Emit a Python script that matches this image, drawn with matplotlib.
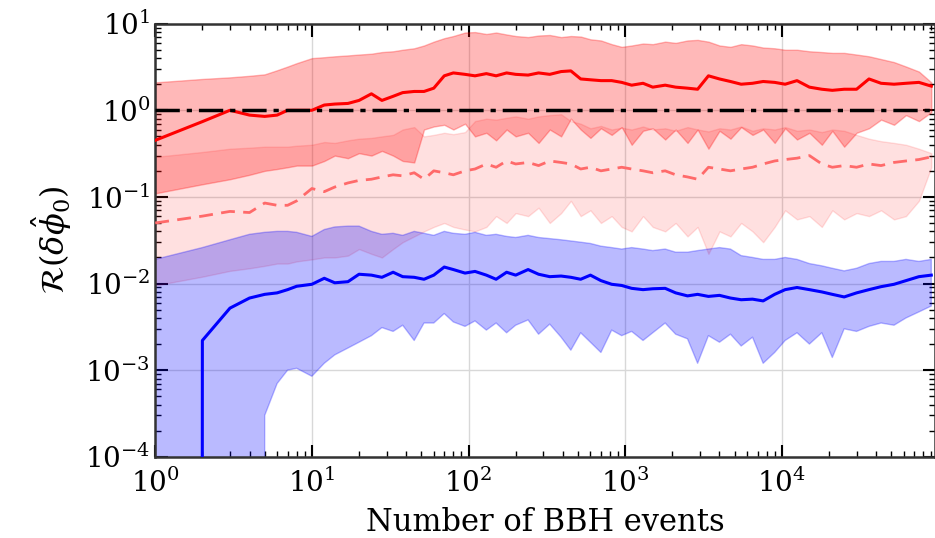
import numpy as np
import matplotlib
matplotlib.use("Agg")
import matplotlib.pyplot as plt

plt.rcParams['font.family'] = 'DejaVu Serif'
plt.rcParams['mathtext.fontset'] = 'dejavuserif'

# Número de eventos (eixo x)
n_eventos = [1, 2, 3, 4, 5, 6, 7, 8, 10, 12, 14, 17, 20, 24, 28, 33, 38, 45,
             52, 60, 70, 80, 95, 110, 130, 150, 175, 200, 240, 280, 330, 390,
             450, 520, 600, 700, 820, 950, 1100, 1300, 1500, 1800, 2100, 2500,
             2900, 3400, 4000, 4700, 5500, 6500, 7600, 9000, 10500, 12500,
             15000, 18000, 21000, 25000, 30000, 36000, 43000, 52000, 62000,
             75000, 90000]

# Faixa vermelha (linha sólida)
verm_mediana = [0.45, 0.74, 1.0, 0.88, 0.85, 0.88, 1.0, 1.0, 1.0, 1.15, 1.18,
                1.2, 1.3, 1.55, 1.3, 1.45, 1.6, 1.65, 1.65, 1.8, 2.5, 2.7, 2.6,
                2.5, 2.65, 2.5, 2.7, 2.6, 2.55, 2.7, 2.6, 2.8, 2.85, 2.3, 2.25,
                2.2, 2.2, 2.1, 1.95, 2.05, 1.85, 1.95, 1.85, 1.8, 1.75, 2.5,
                2.3, 2.15, 2.0, 2.05, 2.15, 2.1, 2.0, 2.2, 1.85, 1.75, 1.7,
                1.75, 1.75, 2.3, 2.05, 2.0, 2.05, 2.1, 1.9]
verm_sup = [2.1, 2.3, 2.4, 2.5, 2.6, 2.9, 3.2, 3.5, 4.0, 4.1, 4.2, 4.3, 4.4,
            4.5, 4.7, 4.8, 5.0, 5.2, 5.6, 6.2, 6.8, 7.2, 7.9, 8.0, 7.6, 7.9,
            7.5, 7.2, 7.0, 7.3, 7.4, 7.0, 7.2, 7.1, 6.6, 6.4, 5.8, 5.4, 5.6,
            5.9, 5.8, 6.2, 6.0, 6.4, 6.5, 6.2, 5.6, 5.4, 5.8, 5.6, 5.3, 5.2,
            5.0, 5.0, 4.8, 4.7, 4.6, 4.6, 4.4, 4.2, 3.9, 3.6, 3.2, 2.8, 2.1]
verm_inf = [0.11, 0.14, 0.16, 0.18, 0.2, 0.21, 0.22, 0.23, 0.23, 0.26, 0.3,
            0.28, 0.32, 0.3, 0.34, 0.3, 0.26, 0.25, 0.6, 0.65, 0.68, 0.6, 0.7,
            0.5, 0.55, 0.45, 0.6, 0.5, 0.55, 0.42, 0.6, 0.5, 0.8, 0.6, 0.48,
            0.62, 0.52, 0.64, 0.4, 0.58, 0.62, 0.46, 0.6, 0.42, 0.6, 0.36, 0.58,
            0.47, 0.64, 0.52, 0.6, 0.42, 0.62, 0.46, 0.55, 0.4, 0.58, 0.38, 0.55,
            0.62, 0.78, 0.68, 0.88, 0.75, 0.95]

# Faixa rosa (linha tracejada)
rosa_mediana = [0.05, 0.06, 0.068, 0.066, 0.085, 0.08, 0.08, 0.09, 0.125,
                0.115, 0.13, 0.145, 0.155, 0.16, 0.17, 0.18, 0.175, 0.19,
                0.16, 0.2, 0.19, 0.18, 0.2, 0.21, 0.24, 0.22, 0.26, 0.24,
                0.25, 0.23, 0.26, 0.25, 0.24, 0.21, 0.22, 0.2, 0.21, 0.22,
                0.21, 0.2, 0.19, 0.2, 0.18, 0.17, 0.16, 0.22, 0.21, 0.2, 0.21,
                0.22, 0.24, 0.26, 0.27, 0.28, 0.3, 0.24, 0.22, 0.23, 0.22,
                0.24, 0.23, 0.25, 0.26, 0.27, 0.29]
rosa_sup = [0.29, 0.33, 0.36, 0.37, 0.38, 0.38, 0.38, 0.39, 0.4, 0.43, 0.42,
            0.45, 0.47, 0.48, 0.5, 0.52, 0.6, 0.64, 0.5, 0.52, 0.55, 0.53,
            0.56, 0.75, 0.8, 0.78, 0.82, 0.85, 0.8, 0.85, 0.88, 0.9, 0.75,
            0.7, 0.62, 0.66, 0.6, 0.63, 0.6, 0.65, 0.6, 0.62, 0.58, 0.64, 0.6,
            0.57, 0.62, 0.6, 0.65, 0.58, 0.62, 0.6, 0.64, 0.58, 0.6, 0.56,
            0.6, 0.58, 0.52, 0.47, 0.44, 0.42, 0.4, 0.36, 0.32]
rosa_inf = [0.0095, 0.012, 0.014, 0.015, 0.016, 0.017, 0.017, 0.018, 0.019,
            0.02, 0.02, 0.021, 0.025, 0.022, 0.02, 0.025, 0.03, 0.035, 0.04,
            0.045, 0.05, 0.045, 0.042, 0.04, 0.045, 0.06, 0.05, 0.065, 0.06,
            0.075, 0.05, 0.065, 0.09, 0.06, 0.07, 0.05, 0.06, 0.045, 0.04,
            0.06, 0.045, 0.04, 0.05, 0.035, 0.045, 0.022, 0.04, 0.035, 0.05,
            0.04, 0.03, 0.045, 0.07, 0.055, 0.06, 0.045, 0.07, 0.055, 0.065,
            0.06, 0.07, 0.055, 0.06, 0.09, 0.22]

# Faixa azul
azul_mediana = [0, 0.0022, 0.0052, 0.0068, 0.0075, 0.0078, 0.0085, 0.0093,
                0.0098, 0.0115, 0.0102, 0.0105, 0.0128, 0.0125, 0.0118,
                0.0135, 0.012, 0.0118, 0.0112, 0.0125, 0.0155, 0.0145,
                0.0132, 0.0138, 0.0125, 0.0112, 0.0135, 0.0125, 0.0145,
                0.0128, 0.012, 0.0122, 0.0118, 0.0112, 0.0125, 0.0108,
                0.0098, 0.0095, 0.0088, 0.0085, 0.0087, 0.0088, 0.0078,
                0.0072, 0.0075, 0.0071, 0.0073, 0.0068, 0.0065, 0.0066,
                0.0063, 0.0075, 0.0085, 0.009, 0.0085, 0.008, 0.0075, 0.007,
                0.0078, 0.0085, 0.0092, 0.0098, 0.0108, 0.012, 0.0125]
azul_sup = [0.019, 0.026, 0.032, 0.037, 0.039, 0.04, 0.04, 0.039, 0.035,
            0.042, 0.045, 0.046, 0.046, 0.04, 0.037, 0.038, 0.036, 0.04,
            0.038, 0.036, 0.04, 0.038, 0.037, 0.039, 0.036, 0.037, 0.035,
            0.034, 0.036, 0.034, 0.033, 0.032, 0.031, 0.03, 0.029, 0.027,
            0.026, 0.025, 0.026, 0.025, 0.024, 0.025, 0.023, 0.023, 0.024,
            0.025, 0.026, 0.025, 0.021, 0.02, 0.019, 0.019, 0.02, 0.019,
            0.017, 0.016, 0.015, 0.014, 0.015, 0.017, 0.018, 0.018, 0.019,
            0.018, 0.019]
azul_inf = [0, 0, 0, 0, 0.0003, 0.0007, 0.001, 0.00105, 0.00085, 0.0012,
            0.0015, 0.0018, 0.0021, 0.0025, 0.0031, 0.0028, 0.0033, 0.0022,
            0.0035, 0.0035, 0.0045, 0.0036, 0.0032, 0.0037, 0.0029, 0.0035,
            0.0027, 0.0033, 0.0038, 0.0026, 0.0034, 0.0024, 0.0017, 0.0027,
            0.0021, 0.0016, 0.0029, 0.0025, 0.0028, 0.0022, 0.0027, 0.0035,
            0.0026, 0.0023, 0.0012, 0.0025, 0.0021, 0.0026, 0.0019, 0.0024,
            0.0012, 0.0016, 0.0022, 0.0027, 0.002, 0.0027, 0.0014, 0.003,
            0.0028, 0.0032, 0.0035, 0.0033, 0.004, 0.0047, 0.0055]

fig = plt.figure(figsize=(9.35, 5.38), dpi=100)
ax = fig.add_axes([0.166, 0.151, 0.834, 0.805])
ax.set_xscale('log')
ax.set_yscale('log')

# Faixas
ax.fill_between(n_eventos, verm_inf, verm_sup, color='red', alpha=0.28, lw=1, zorder=2)
ax.fill_between(n_eventos, rosa_inf, rosa_sup, color='red', alpha=0.12, lw=1, zorder=2)
ax.fill_between(n_eventos, azul_inf, azul_sup, color='blue', alpha=0.27, lw=1, zorder=2)

# Medianas
ax.plot(n_eventos, verm_mediana, color='red', lw=2.2, zorder=4)
ax.plot(n_eventos, rosa_mediana, color='#ff6a6a', lw=2, ls=(0, (5, 3)), zorder=4)
ax.plot(n_eventos, azul_mediana, color='blue', lw=2.2, zorder=4)
ax.axhline(1.0, color='black', lw=2.5, ls=(0, (7, 2, 1.5, 2)), zorder=5)

ax.set_xlim(1, 9.5e4)
ax.set_ylim(1e-4, 10)
ax.grid(True, which='major', color='#d8d8d8', lw=1, zorder=0)
ax.set_axisbelow(True)

ax.tick_params(which='both', direction='in', top=True, right=True, labelsize=20)
ax.tick_params(axis='x', which='major', pad=9)
ax.tick_params(which='major', length=9, width=1.5)
ax.tick_params(which='minor', length=4.5, width=1)
for s in ax.spines.values():
    s.set_linewidth(1.8)
    s.set_color('#333333')

ax.set_xlabel("Number of BBH events", fontsize=22, labelpad=6)
ax.set_ylabel(r"$\mathcal{R}(\delta\hat{\phi}_0)$", fontsize=23, labelpad=8)

fig.savefig("out.png", dpi=100)
